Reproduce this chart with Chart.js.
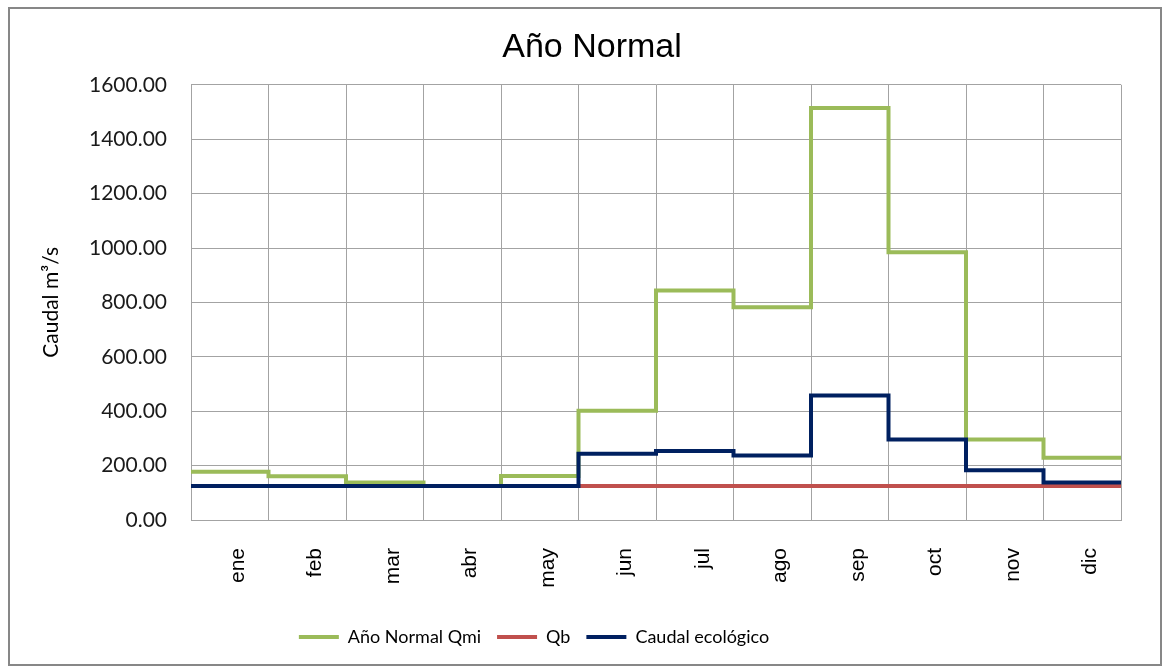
<!DOCTYPE html>
<html>
<head>
<meta charset="utf-8">
<title>Año Normal</title>
<script src="https://cdn.jsdelivr.net/npm/chart.js@4.4.1/dist/chart.umd.min.js"></script>
<style>
  html, body { margin: 0; padding: 0; background: #fff; }
  .chart-box {
    position: absolute; left: 8px; top: 7px;
    width: 1150px; height: 655px;
    border: 2px solid #878787; background: #fff;
  }
</style>
</head>
<body>
<div class="chart-box"><canvas id="caudal-chart"></canvas></div>
<script>
// Monthly flows, normal year (m3/s)
const months = ['ene', 'feb', 'mar', 'abr', 'may', 'jun', 'jul', 'ago', 'sep', 'oct', 'nov', 'dic'];
const qmiNormal = [177, 161, 138, 125, 162, 402, 844, 782, 1515, 984, 296, 229];
const qBase = [125, 125, 125, 125, 125, 125, 125, 125, 125, 125, 125, 125];
const caudalEcologico = [125, 125, 125, 125, 125, 244, 254, 237, 458, 296, 183, 138];

const yMin = 0;
const yMax = 1600;
const yStep = 200;

const GRID = '#a3a3a3';
const CALIBRI = 'Lato, "Open Sans", sans-serif';
const ARIAL = '"Liberation Sans", Arial, sans-serif';

// each month is held flat across its own column, so add a closing point at the right edge
function stepPoints(values) {
    const pts = values.map((v, i) => ({ x: i, y: v }));
    pts.push({ x: values.length, y: values[values.length - 1] });
    return pts;
}

function lineSet(label, values, color, order) {
    return {
        label: label,
        data: stepPoints(values),
        xAxisID: 'xd',
        yAxisID: 'y',
        stepped: true,
        borderColor: color,
        backgroundColor: color,
        borderWidth: 4,
        borderJoinStyle: 'miter',
        borderCapStyle: 'butt',
        pointRadius: 0,
        fill: false,
        order: order
    };
}

// legend sits left of centre, under the series rather than the whole box
const legendShift = {
    id: 'legendShift',
    afterLayout(chart) {
        const lg = chart.legend;
        if (!lg) return;
        lg.left -= 58;
        lg.right -= 58;
    }
};

const ctx = document.getElementById('caudal-chart');
new Chart(ctx, {
    type: 'line',
    data: {
        datasets: [
            lineSet('Año Normal Qmi', qmiNormal, '#9bbb59', 3),
            lineSet('Qb', qBase, '#c0504d', 2),
            lineSet('Caudal ecológico', caudalEcologico, '#002060', 1)
        ]
    },
    plugins: [legendShift],
    options: {
        responsive: true,
        maintainAspectRatio: false,
        animation: false,
        layout: { padding: { left: 14, right: 0, top: 0, bottom: 8 } },
        plugins: {
            tooltip: { enabled: false },
            title: {
                display: true,
                text: 'Año Normal',
                color: '#000',
                font: { family: ARIAL, size: 34, weight: 'normal' },
                padding: { top: 18, bottom: 17 }
            },
            legend: {
                position: 'bottom',
                labels: {
                    color: '#000',
                    font: { family: CALIBRI, size: 18 },
                    boxWidth: 40,
                    boxHeight: 4,
                    padding: 16,
                    sort: (a, b) => a.datasetIndex - b.datasetIndex,
                    generateLabels: (chart) => {
                        const items = Chart.defaults.plugins.legend.labels.generateLabels(chart);
                        return items.map(it => Object.assign(it, { lineWidth: 0, fillStyle: it.strokeStyle }));
                    }
                }
            }
        },
        scales: {
            // hidden linear axis carrying the step data
            xd: {
                type: 'linear',
                display: false,
                min: 0,
                max: months.length
            },
            // visible month axis, labels centred in each column
            x: {
                type: 'category',
                labels: months,
                offset: true,
                position: 'bottom',
                grid: { display: true, offset: true, color: GRID, lineWidth: 1, drawTicks: false },
                border: { color: GRID },
                ticks: {
                    color: '#000',
                    font: { family: ARIAL, size: 21 },
                    minRotation: 90,
                    maxRotation: 90,
                    padding: 28,
                    labelOffset: 8
                },
                afterFit: (scale) => { scale.height = 92; }
            },
            y: {
                min: yMin,
                max: yMax,
                grid: { color: GRID, lineWidth: 1, drawTicks: false },
                border: { color: GRID },
                ticks: {
                    stepSize: yStep,
                    color: '#1a1a1a',
                    font: { family: CALIBRI, size: 21 },
                    padding: 24,
                    callback: (v) => v.toFixed(2)
                },
                title: {
                    display: true,
                    text: 'Caudal m³/s',
                    color: '#000',
                    font: { family: CALIBRI, size: 21 },
                    padding: { top: 15, bottom: 0 }
                },
                afterFit: (scale) => { scale.width = 167; }
            },
            // empty right-hand margin of the plot
            yr: {
                position: 'right',
                grid: { display: false },
                border: { display: false },
                ticks: { display: false },
                afterFit: (scale) => { scale.width = 39; }
            }
        }
    }
});
</script>
</body>
</html>
